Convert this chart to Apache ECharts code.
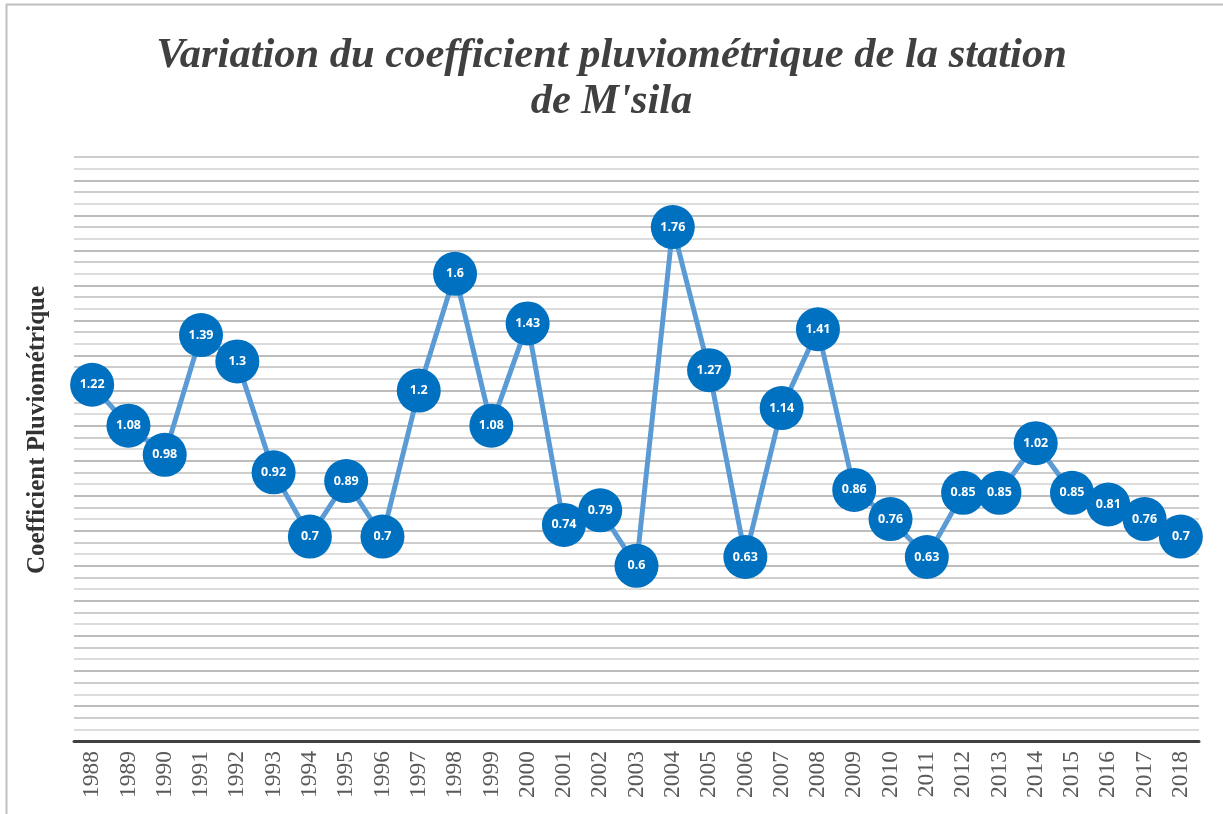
<!DOCTYPE html>
<html>
<head>
<meta charset="utf-8">
<script src="https://cdn.jsdelivr.net/npm/echarts@6/dist/echarts.min.js"></script>
<style>
  html, body { margin: 0; padding: 0; background: #fff; }
  #main { width: 1223px; height: 814px; }
</style>
</head>
<body>
<div id="main"></div>
<script>
// years and pluviometric coefficient, M'sila station
var years = ['1988','1989','1990','1991','1992','1993','1994','1995','1996','1997',
             '1998','1999','2000','2001','2002','2003','2004','2005','2006','2007',
             '2008','2009','2010','2011','2012','2013','2014','2015','2016','2017','2018'];
var coefValues = [1.22, 1.08, 0.98, 1.39, 1.3, 0.92, 0.7, 0.89, 0.7, 1.2,
                  1.6, 1.08, 1.43, 0.74, 0.79, 0.6, 1.76, 1.27, 0.63, 1.14,
                  1.41, 0.86, 0.76, 0.63, 0.85, 0.85, 1.02, 0.85, 0.81, 0.76, 0.7];

var myChart = echarts.init(document.getElementById('main'));

var option = {
    backgroundColor: '#ffffff',
    animation: false,
    title: {
        text: "Variation du coefficient pluviométrique de la station\nde M'sila",
        left: 'center',
        top: 28,
        textStyle: {
            fontFamily: 'Liberation Serif',
            fontStyle: 'italic',
            fontWeight: 'bold',
            fontSize: 42.5,
            lineHeight: 46,
            color: '#404040'
        }
    },
    graphic: [{
        type: 'rect',
        shape: { x: 6.5, y: 4.5, width: 1230, height: 820 },
        style: { fill: null, stroke: '#bfbfbf', lineWidth: 2 },
        silent: true
    }, {
        // y axis title, placed by hand like the original
        type: 'text',
        x: 38,
        y: 430,
        rotation: Math.PI / 2,
        style: {
            text: 'Coefficient Pluviométrique',
            fontFamily: 'Liberation Serif',
            fontWeight: 'bold',
            fontSize: 25,
            fill: '#333333',
            align: 'center',
            verticalAlign: 'middle'
        },
        silent: true
    }],
    grid: {
        left: 74,
        right: 24,
        top: 157,
        bottom: 73
    },
    xAxis: {
        type: 'category',
        data: years,
        boundaryGap: true,
        axisLine: { show: true, lineStyle: { color: '#404040', width: 3 } },
        axisTick: { show: false },
        axisLabel: {
            rotate: 90,
            margin: 10,
            fontFamily: 'Liberation Serif',
            fontSize: 23.5,
            color: '#595959'
        }
    },
    yAxis: {
        type: 'value',
        min: 0,
        max: 2,
        interval: 0.04,
        axisLine: { show: false },
        axisTick: { show: false },
        axisLabel: { show: false },
        splitLine: {
            show: true,
            lineStyle: { color: ['#a6a6a6', '#d0d0d0', '#bdbdbd'], width: 1.5 }
        }
    },
    series: [{
        type: 'line',
        data: coefValues,
        symbol: 'circle',
        symbolSize: 44,
        lineStyle: { color: '#5b9bd5', width: 5 },
        itemStyle: { color: '#0070c0', borderColor: '#0070c0', borderWidth: 0 },
        label: {
            show: true,
            position: 'inside',
            color: '#ffffff',
            fontFamily: 'Open Sans',
            fontWeight: 'bold',
            fontSize: 12.5
        },
        z: 3
    }]
};

myChart.setOption(option);
</script>
</body>
</html>
